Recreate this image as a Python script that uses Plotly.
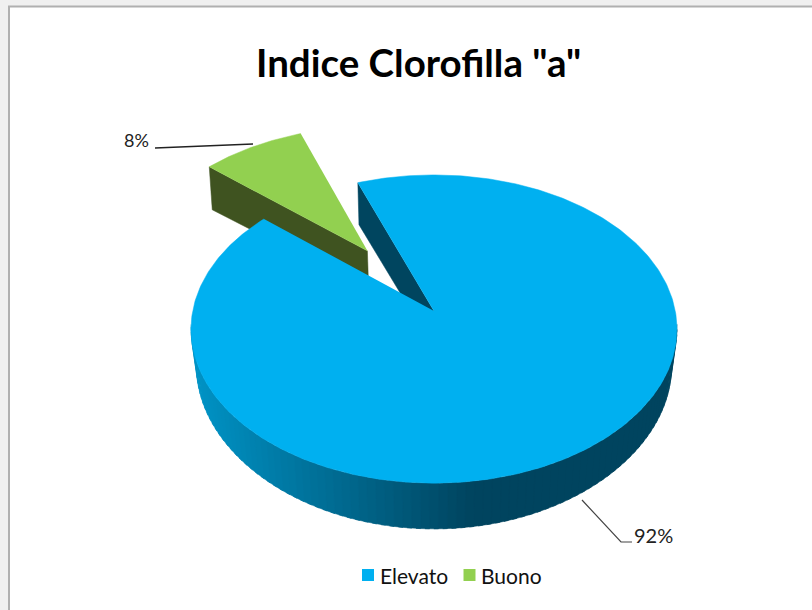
import numpy as np
import plotly.graph_objects as go

# Data
categories = ["Elevato", "Buono"]
values = [92, 8]
colors_top = ["#00B0F0", "#92D050"]
title_text = 'Indice Clorofilla "a"'

# View geometry of the tilted disc (pixels of the chart frame)
CX, Y_TOP, Y_BOT = 434.0, 311.0, 349.0
A_TOP, B_TOP, K_TOP = 241.3, 152.0, 0.117
B_BOT, K_BOT = 152.0, 0.155
FIRST_ANGLE = -20.5
PULL = 0.506
total = sum(values)
span = [360.0 * v / total for v in values]
elevato_start, elevato_end = FIRST_ANGLE, FIRST_ANGLE + span[0]
buono_start, buono_end = elevato_end, elevato_end + span[1]


def project(u, v, bottom=False):
    u, v = np.asarray(u, float), np.asarray(v, float)
    if bottom:
        w = 1 + K_BOT * v
        return CX + (236 + 10 * v) * u / w, Y_BOT - B_BOT * v / w
    w = 1 + K_TOP * v
    return CX + A_TOP * u / w, Y_TOP - B_TOP * v / w


def arc(a0, a1, n=160, du=0.0, dv=0.0, bottom=False):
    t = np.radians(np.linspace(a0, a1, n))
    return project(np.sin(t) + du, np.cos(t) + dv, bottom)


def poly(fig, xs, ys, color, name=None):
    fig.add_trace(go.Scatter(x=list(xs), y=list(ys), mode="lines", fill="toself",
                             fillcolor=color, line=dict(color=color, width=0.5),
                             hoverinfo="skip", showlegend=False, name=name))


def mix(c0, c1, f):
    return "rgb(" + ",".join(str(int(round(a + (b - a) * f))) for a, b in zip(c0, c1)) + ")"


fig = go.Figure()

# Buono (exploded slice)
mid = np.radians((buono_start + buono_end) / 2)
du, dv = PULL * np.sin(mid), PULL * np.cos(mid)
tx, ty = arc(buono_start, buono_end, 60, du, dv)
ax, ay = project(du, dv)
bx0, by0 = arc(buono_start, buono_start, 1, du, dv, bottom=True)
abx, aby = project(du, dv, bottom=True)
poly(fig, [tx[0], bx0[0], abx, ax], [ty[0], by0[0], aby, ay], "#3F5320")
poly(fig, [float(ax), *tx], [float(ay), *ty], colors_top[1], categories[1])

# Elevato: rim with horizontal shading
LIGHT, DARK = (0, 146, 196), (0, 68, 95)
edges = np.linspace(95, 265, 90)
for i in range(len(edges) - 1):
    a0, a1 = edges[i], min(edges[i + 1] + 1.0, 265)
    x0, y0 = arc(a1, a0, 6)
    x1, y1 = arc(a0, a1, 6, bottom=True)
    xmid = float(np.mean(x0))
    f = min(max((xmid - 195) / (470 - 195), 0), 1)
    poly(fig, [*x0, *x1], [*y0, *y1], mix(LIGHT, DARK, f) if xmid < 470 else "#00445F")
# Elevato: cut face
t0x, t0y = arc(elevato_start, elevato_start, 1)
b0x, b0y = arc(elevato_start, elevato_start, 1, bottom=True)
cx, cy = project(0, 0)
cbx, cby = project(0, 0, bottom=True)
poly(fig, [t0x[0], b0x[0], cbx, cx], [t0y[0], b0y[0], cby, cy], "#00455F")
# Elevato: top face
ex, ey = arc(elevato_start, elevato_end, 400)
poly(fig, [float(cx), *ex], [float(cy), *ey], colors_top[0], categories[0])

# Leader lines
fig.add_trace(go.Scatter(x=[155, 253], y=[148, 144], mode="lines", hoverinfo="skip",
                         line=dict(color="#222222", width=1.3), showlegend=False))
fig.add_trace(go.Scatter(x=[582, 621, 632], y=[500, 542, 542], mode="lines", hoverinfo="skip",
                         line=dict(color="#444444", width=1.2), showlegend=False))

# Legend row
fig.add_trace(go.Scatter(x=[368, 469.5], y=[575, 575], mode="markers", hoverinfo="skip",
                         showlegend=False,
                         marker=dict(symbol="square", size=12, color=colors_top, line=dict(width=0))))
anns = [
    dict(x=380, y=575, text=categories[0], xanchor="left",
         font=dict(size=21, family="Lato", color="#111111")),
    dict(x=481, y=575, text=categories[1], xanchor="left",
         font=dict(size=21, family="Lato", color="#111111")),
    dict(x=136, y=140, text=f"{values[1]}%", font=dict(size=18, color="#222222", family="Lato")),
    dict(x=653.5, y=535, text=f"{values[0]}%", font=dict(size=20, color="#222222", family="Lato")),
    dict(x=418.5, y=62, text="<b>" + title_text + "</b>",
         font=dict(size=38.5, color="#000000", family="Lato")),
]
for a in anns:
    a.setdefault("xanchor", "center")
    a.update(showarrow=False, xref="x", yref="y", yanchor="middle", borderpad=0, borderwidth=0)

fig.update_layout(
    width=812, height=610, margin=dict(l=0, r=0, t=0, b=0),
    paper_bgcolor="#F0F0F0", plot_bgcolor="#F0F0F0",
    xaxis=dict(range=[0, 812], visible=False, fixedrange=True),
    yaxis=dict(range=[610, 0], visible=False, fixedrange=True),
    annotations=anns,
    shapes=[dict(type="rect", xref="x", yref="y", x0=9, y0=6.5, x1=840, y1=640,
                 fillcolor="#FFFFFF", line=dict(color="#B0B0B0", width=2), layer="below")],
    showlegend=False,
)
fig.write_html("out.html", config={"displayModeBar": False},
               post_script="document.body.style.margin='0';")
